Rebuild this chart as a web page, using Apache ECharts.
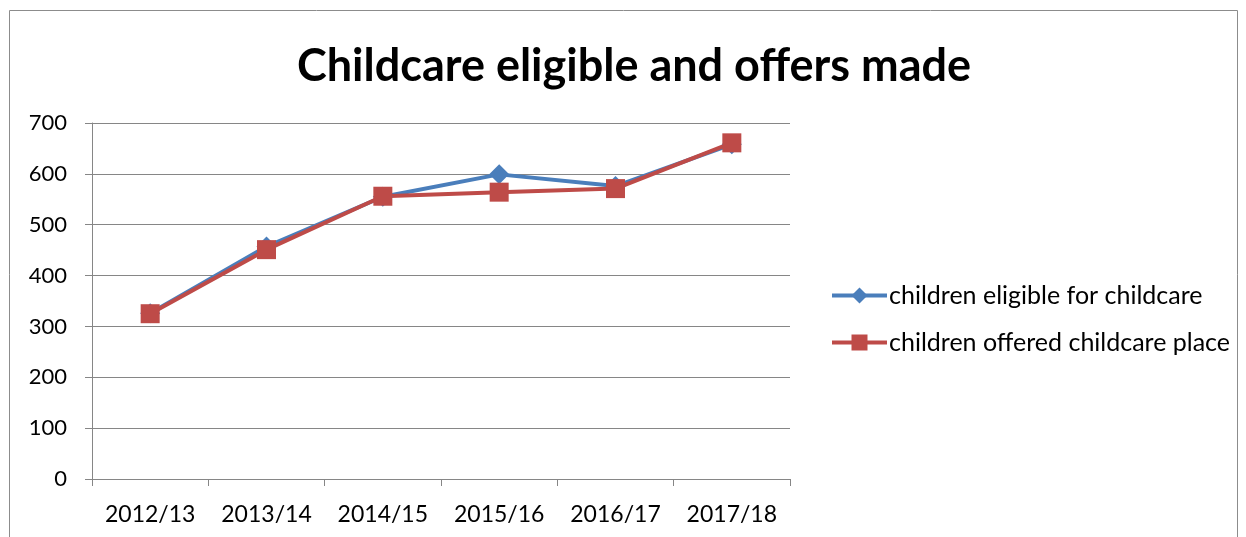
<!DOCTYPE html>
<html>
<head>
<meta charset="utf-8">
<script src="https://cdn.jsdelivr.net/npm/echarts@6/dist/echarts.min.js"></script>
<style>
  html, body { margin: 0; padding: 0; background: #fff; }
  #chart { width: 1246px; height: 537px; }
</style>
</head>
<body>
<div id="chart"></div>
<script>
// data
const years = ['2012/13', '2013/14', '2014/15', '2015/16', '2016/17', '2017/18']
const eligible = [326, 457, 555, 599, 576, 658]
const offered = [325, 451, 556, 564, 571, 661]

const chart = echarts.init(document.getElementById('chart'))
const font = 'Lato, "Open Sans", sans-serif'

chart.setOption({
  animation: false,
  title: {
    text: 'Childcare eligible and offers made',
    left: 629,
    textAlign: 'center',
    top: 39,
    textStyle: { fontFamily: font, fontSize: 45, fontWeight: 'bold', color: '#000' }
  },
  graphic: [{
    type: 'rect',
    shape: { x: 9.5, y: 10.5, width: 1228, height: 560 },
    style: { fill: 'none', stroke: '#8c8c8c', lineWidth: 1 }
  }],
  legend: {
    orient: 'vertical',
    left: 830,
    top: 283,
    padding: 0,
    itemWidth: 55,
    itemHeight: 20,
    itemGap: 22,
    lineStyle: { width: 'inherit' },
    textStyle: { fontFamily: font, fontSize: 25, color: '#000', padding: [0, 0, 0, -3] },
    data: ['children eligible for childcare', 'children offered childcare place']
  },
  grid: { left: 92, right: 456, top: 123, bottom: 58, containLabel: false },
  xAxis: {
    type: 'category',
    data: years,
    boundaryGap: true,
    axisLine: { lineStyle: { color: '#868686', width: 1 } },
    axisTick: { show: true, interval: 0, length: 7, lineStyle: { color: '#868686' } },
    axisLabel: { interval: 0, fontFamily: font, fontSize: 23, color: '#000', margin: 24 }
  },
  yAxis: {
    type: 'value',
    min: 0,
    max: 700,
    interval: 100,
    axisLine: { show: true, lineStyle: { color: '#868686', width: 1 } },
    axisTick: { show: true, length: 7, lineStyle: { color: '#868686' } },
    splitLine: { lineStyle: { color: '#868686', width: 1 } },
    axisLabel: { fontFamily: font, fontSize: 22, color: '#000', margin: 25 }
  },
  series: [
    {
      name: 'children eligible for childcare',
      type: 'line',
      data: eligible,
      symbol: 'diamond',
      symbolSize: 20,
      lineStyle: { color: '#4a7ebb', width: 4 },
      itemStyle: { color: '#4a7ebb' }
    },
    {
      name: 'children offered childcare place',
      type: 'line',
      data: offered,
      symbol: 'rect',
      symbolSize: 19,
      lineStyle: { color: '#be4b48', width: 4 },
      itemStyle: { color: '#be4b48' }
    }
  ]
})
</script>
</body>
</html>
